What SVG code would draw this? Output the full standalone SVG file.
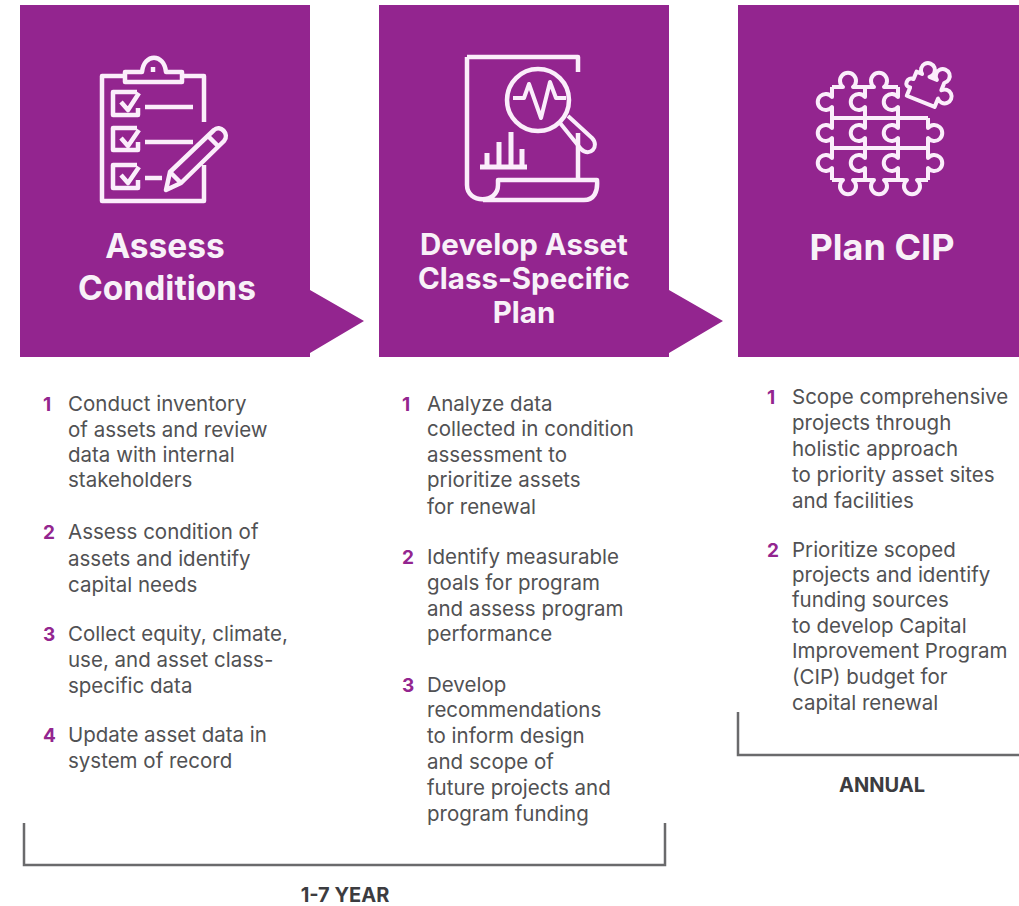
<svg xmlns="http://www.w3.org/2000/svg" width="1019" height="906" viewBox="0 0 1019 906">
<style>
.box{fill:#93258f}
.ic{fill:none;stroke:#fbeefb;stroke-width:4.5;stroke-linejoin:round;stroke-linecap:butt}
.ic2{fill:none;stroke:#fbeefb;stroke-width:4;stroke-linejoin:round}
.h{font:700 33.5px "Inter","Liberation Sans",sans-serif;fill:#f8f1f8;text-anchor:middle}
.m{font-size:29.5px}
.l{font-size:36px}
.t{font:400 20.5px "Inter","Liberation Sans",sans-serif;fill:#515153}
.n{font:700 19px "Inter","Liberation Sans",sans-serif;fill:#93258f}
.f{font:700 20px "Inter","Liberation Sans",sans-serif;fill:#3c3c40;text-anchor:middle}
.br{fill:none;stroke:#6a6a6c;stroke-width:2.5}
</style>
<rect width="1019" height="906" fill="#fff"/>
<g id="node-assess">
<path class="box" d="M20 5H310V290L364 321L310 353V357H20Z"/>
<g class="ic">
<path d="M125 76H102V201H204V165M204 122V76H182"/>
<path d="M125 82V72H142C144 53 164 53 166 72H182V82Z"/>
<path d="M153 67V72"/>
<path d="M137 92H113V115H138V108M137 128H113V150H138V142M137 165H113V188H138V180"/>
<path d="M121 102L128 110L139 93M121 138L128 146L139 130M121 175L128 183L139 167"/>
<path d="M145 107H193M145 142H193M145 178H162"/>
<path d="M166 190L170 172L214 130C220 124 230 134 224 141L181 183Z"/>
<path d="M170 172L181 183M208 136L219 147"/>
</g>
</g>
<g id="node-develop">
<path class="box" d="M379 5H669V290L723 321L669 353V357H379Z"/>
<g class="ic">
<path d="M467 57H578V72M578 133V182"/>
<path d="M467 57V185C467 204 498 204 498 185V180H597C598 192 594 200 584 200H483"/>
<circle cx="538" cy="100" r="31"/>
<path d="M513 98H524L529 84L541 118L550 82L556 98H566" stroke-width="4"/>
<path d="M560 123L581 149C590 158 600 146 592 138L568 116" stroke-width="4"/>
<path d="M487 166V153M499 166V142M511 166V132M522 166V149M480 167H527" stroke-width="5"/>
</g>
</g>
<g id="node-plan">
<path class="box" d="M738 5H1019V357H738Z"/>
<g class="ic2">
<path d="M832 87V97A8 8 0 1 0 832 107V128A8 8 0 1 0 832 138V158A8 8 0 1 0 832 168V180"/>
<path d="M865 87V97A8 8 0 1 0 865 107V128A8 8 0 1 0 865 138V158A8 8 0 1 0 865 168V180"/>
<path d="M898 87V97A8 8 0 1 0 898 107V128A8 8 0 1 0 898 138V158A8 8 0 1 0 898 168V180"/>
<path d="M928 118V128A8 8 0 1 1 928 138V158A8 8 0 1 1 928 168V180"/>
<path d="M832 87H843A8 8 0 1 1 853 87H874A8 8 0 1 1 884 87H898"/>
<path d="M832 118H928M832 148H928"/>
<path d="M832 180H843A8 8 0 1 0 853 180H874A8 8 0 1 0 884 180H907A8 8 0 1 0 917 180H928"/>
<path transform="rotate(22 925 88)" d="M911 76H917A7 7 0 1 1 925 76H933A7 7 0 1 1 941 76V84A7 7 0 1 1 941 93V102H911V93C904 95 904 84 911 84Z"/>
</g>
</g>
<g id="labels">
<text class="h" x="165" y="258">Assess</text>
<text class="h" x="167" y="300">Conditions</text>
<text class="h m" x="524" y="255">Develop Asset</text>
<text class="h m" x="524" y="289">Class-Specific</text>
<text class="h m" x="524" y="323">Plan</text>
<text class="h l" x="882" y="260">Plan CIP</text>
</g>
<g id="list-1">
<text class="n" x="43" y="411">1</text><text class="t" x="68" y="411">Conduct inventory</text><text class="t" x="68" y="437">of assets and review</text><text class="t" x="68" y="462">data with internal</text><text class="t" x="68" y="487">stakeholders</text>
<text class="n" x="43" y="539">2</text><text class="t" x="68" y="539">Assess condition of</text><text class="t" x="68" y="566">assets and identify</text><text class="t" x="68" y="592">capital needs</text>
<text class="n" x="43" y="641">3</text><text class="t" x="68" y="641">Collect equity, climate,</text><text class="t" x="68" y="667">use, and asset class-</text><text class="t" x="68" y="693">specific data</text>
<text class="n" x="43" y="742">4</text><text class="t" x="68" y="742">Update asset data in</text><text class="t" x="68" y="768">system of record</text>
</g>
<g id="list-2">
<text class="n" x="402" y="411">1</text><text class="t" x="427" y="411">Analyze data</text><text class="t" x="427" y="436">collected in condition</text><text class="t" x="427" y="462">assessment to</text><text class="t" x="427" y="487">prioritize assets</text><text class="t" x="427" y="514">for renewal</text>
<text class="n" x="402" y="564">2</text><text class="t" x="427" y="564">Identify measurable</text><text class="t" x="427" y="590">goals for program</text><text class="t" x="427" y="616">and assess program</text><text class="t" x="427" y="641">performance</text>
<text class="n" x="402" y="692">3</text><text class="t" x="427" y="692">Develop</text><text class="t" x="427" y="717">recommendations</text><text class="t" x="427" y="743">to inform design</text><text class="t" x="427" y="769">and scope of</text><text class="t" x="427" y="795">future projects and</text><text class="t" x="427" y="821">program funding</text>
</g>
<g id="list-3">
<text class="n" x="767" y="404">1</text><text class="t" x="792" y="404">Scope comprehensive</text><text class="t" x="792" y="430">projects through</text><text class="t" x="792" y="456">holistic approach</text><text class="t" x="792" y="482">to priority asset sites</text><text class="t" x="792" y="508">and facilities</text>
<text class="n" x="767" y="557">2</text><text class="t" x="792" y="557">Prioritize scoped</text><text class="t" x="792" y="582">projects and identify</text><text class="t" x="792" y="607">funding sources</text><text class="t" x="792" y="633">to develop Capital</text><text class="t" x="792" y="658">Improvement Program</text><text class="t" x="792" y="684">(CIP) budget for</text><text class="t" x="792" y="710">capital renewal</text>
</g>
<g id="connectors">
<path class="br" d="M24 823V865H665V823"/>
<path class="br" d="M738 712V755H1019"/>
</g>
<text class="f" x="345" y="902">1-7 YEAR</text>
<text class="f" x="882" y="792">ANNUAL</text>
</svg>
